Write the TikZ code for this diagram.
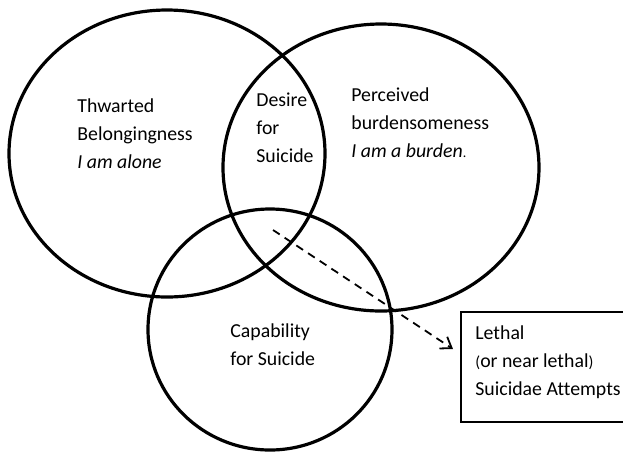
\documentclass[tikz,border=0pt]{standalone}
\usepackage{fontspec}
\setmainfont{Carlito}[Ligatures=NoCommon]
\usetikzlibrary{shapes.geometric,arrows.meta}

\begin{document}
\begin{tikzpicture}[x=0.5pt, y=-0.5pt, >={Straight Barb[length=5pt,width=7pt]}]

\tikzset{
  ring/.style={draw, ellipse, line width=1.6pt, inner sep=0pt},
  lbl/.style={align=left, anchor=base west, inner sep=0pt,
              font=\fontsize{9.9}{14}\selectfont},
}

\useasboundingbox (0,0) rectangle (623,452);

% Los tres circulos
\node[ring, minimum width=158pt, minimum height=143.5pt] (belong) at (167,153.5) {};
\node[ring, minimum width=158pt, minimum height=143.5pt] (burden) at (381,167.5) {};
\node[ring, minimum width=122pt, minimum height=120.5pt] (capab) at (270,329.5) {};

% Textos de los circulos (base = ultima linea)
\node[lbl] (thwarted) at (77,168) {Thwarted\\Belongingness\\\textit{I am alone}};
\node[lbl] (desire) at (256,162) {Desire\\for\\Suicide};
\node[lbl] (perceived) at (351,157) {Perceived\\burdensomeness\\\textit{I am a burden}{\scriptsize.}};
\node[lbl] (capability) at (230,365) {Capability\\for Suicide};

% Caja de intentos
\node[draw, line width=0.75pt, minimum width=89.5pt, minimum height=55pt,
      inner sep=0pt] (attempts) at (550.5,367) {};
\node[lbl] (lethal) at (475,395) {Lethal\\{\footnotesize(}or near lethal{\footnotesize)}\\Suicidae Attempts};

% Flecha discontinua
\coordinate (start) at (273,230);
\coordinate (tip) at (453,349);
\draw[->, line width=0.9pt, dash pattern=on 4pt off 3pt] (start) -- (tip);

\end{tikzpicture}
\end{document}
